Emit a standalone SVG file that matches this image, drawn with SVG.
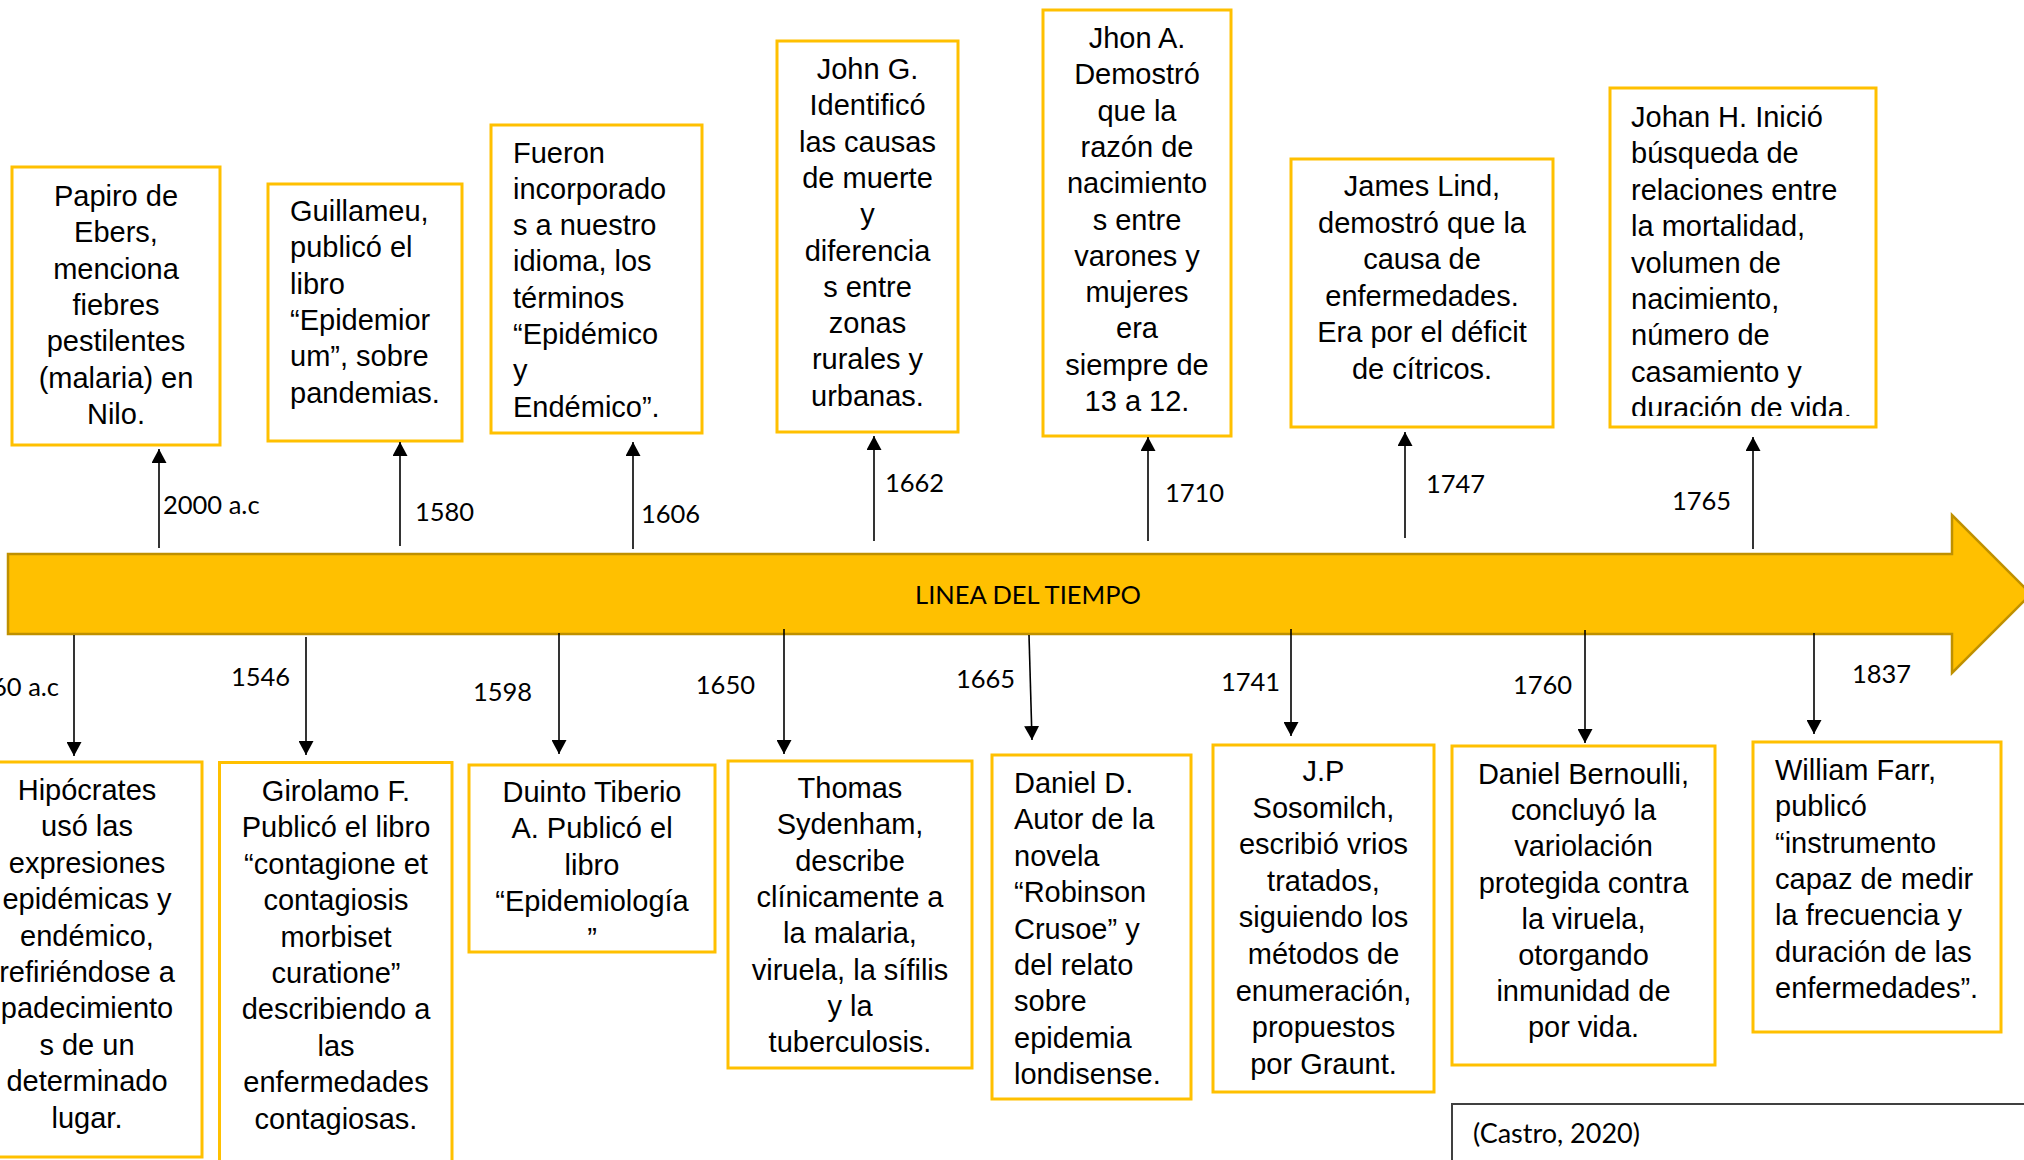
<svg xmlns="http://www.w3.org/2000/svg" width="2024" height="1160" viewBox="0 0 2024 1160">
<style>
.box{fill:#fff;stroke:#FFC000;stroke-width:3}
.t{font-family:"Liberation Sans",Arial,sans-serif;font-size:29px;fill:#000}
.c{text-anchor:middle}
.lbl{font-family:Lato,"Open Sans",sans-serif;font-size:25.5px;fill:#000}
.conn{stroke:#000;stroke-width:1.6;fill:none;marker-end:url(#ah)}
</style>
<defs>
<marker id="ah" markerUnits="userSpaceOnUse" markerWidth="15" markerHeight="15" refX="14" refY="7.5" orient="auto">
<path d="M0,0 L14,7.5 L0,15 Z" fill="#000"/>
</marker>
<clipPath id="clipJohan"><rect x="1610" y="88" width="266" height="328"/></clipPath>
</defs>
<rect width="2024" height="1160" fill="#fff"/>

<g id="timeline">
<path d="M8,554 H1952 V515 L2031,594 L1952,673 V634 H8 Z" fill="#FFC000" stroke="#BF9000" stroke-width="2.5"/>
<text x="1028" y="604" class="lbl c">LINEA DEL TIEMPO</text>
</g>

<g id="n-papiro">
<rect class="box" x="12" y="167" width="208" height="278"/>
<text class="t c" y="206"><tspan x="116">Papiro de</tspan><tspan x="116" dy="36.3">Ebers,</tspan><tspan x="116" dy="36.3">menciona</tspan><tspan x="116" dy="36.3">fiebres</tspan><tspan x="116" dy="36.3">pestilentes</tspan><tspan x="116" dy="36.3">(malaria) en</tspan><tspan x="116" dy="36.3">Nilo.</tspan></text>
</g>
<g id="n-guillameu">
<rect class="box" x="268" y="184" width="194" height="257"/>
<text class="t" y="221"><tspan x="290">Guillameu,</tspan><tspan x="290" dy="36.3">publicó el</tspan><tspan x="290" dy="36.3">libro</tspan><tspan x="290" dy="36.3">“Epidemior</tspan><tspan x="290" dy="36.3">um”, sobre</tspan><tspan x="290" dy="36.3">pandemias.</tspan></text>
</g>
<g id="n-fueron">
<rect class="box" x="491" y="125" width="211" height="308"/>
<text class="t" y="162.5"><tspan x="513">Fueron</tspan><tspan x="513" dy="36.3">incorporado</tspan><tspan x="513" dy="36.3">s a nuestro</tspan><tspan x="513" dy="36.3">idioma, los</tspan><tspan x="513" dy="36.3">términos</tspan><tspan x="513" dy="36.3">“Epidémico</tspan><tspan x="513" dy="36.3">y</tspan><tspan x="513" dy="36.3">Endémico”.</tspan></text>
</g>
<g id="n-johng">
<rect class="box" x="777" y="41" width="181" height="391"/>
<text class="t c" y="79"><tspan x="867.5">John G.</tspan><tspan x="867.5" dy="36.3">Identificó</tspan><tspan x="867.5" dy="36.3">las causas</tspan><tspan x="867.5" dy="36.3">de muerte</tspan><tspan x="867.5" dy="36.3">y</tspan><tspan x="867.5" dy="36.3">diferencia</tspan><tspan x="867.5" dy="36.3">s entre</tspan><tspan x="867.5" dy="36.3">zonas</tspan><tspan x="867.5" dy="36.3">rurales y</tspan><tspan x="867.5" dy="36.3">urbanas.</tspan></text>
</g>
<g id="n-jhona">
<rect class="box" x="1043" y="10" width="188" height="426"/>
<text class="t c" y="48"><tspan x="1137">Jhon A.</tspan><tspan x="1137" dy="36.3">Demostró</tspan><tspan x="1137" dy="36.3">que la</tspan><tspan x="1137" dy="36.3">razón de</tspan><tspan x="1137" dy="36.3">nacimiento</tspan><tspan x="1137" dy="36.3">s entre</tspan><tspan x="1137" dy="36.3">varones y</tspan><tspan x="1137" dy="36.3">mujeres</tspan><tspan x="1137" dy="36.3">era</tspan><tspan x="1137" dy="36.3">siempre de</tspan><tspan x="1137" dy="36.3">13 a 12.</tspan></text>
</g>
<g id="n-james">
<rect class="box" x="1291" y="159" width="262" height="268"/>
<text class="t c" y="196"><tspan x="1422">James Lind,</tspan><tspan x="1422" dy="36.6">demostró que la</tspan><tspan x="1422" dy="36.6">causa de</tspan><tspan x="1422" dy="36.6">enfermedades.</tspan><tspan x="1422" dy="36.6">Era por el déficit</tspan><tspan x="1422" dy="36.6">de cítricos.</tspan></text>
</g>
<g id="n-johan">
<rect class="box" x="1610" y="88" width="266" height="339"/>
<text class="t" y="127" clip-path="url(#clipJohan)"><tspan x="1631">Johan H. Inició</tspan><tspan x="1631" dy="36.4">búsqueda de</tspan><tspan x="1631" dy="36.4">relaciones entre</tspan><tspan x="1631" dy="36.4">la mortalidad,</tspan><tspan x="1631" dy="36.4">volumen de</tspan><tspan x="1631" dy="36.4">nacimiento,</tspan><tspan x="1631" dy="36.4">número de</tspan><tspan x="1631" dy="36.4">casamiento y</tspan><tspan x="1631" dy="36.4">duración de vida.</tspan></text>
</g>

<g id="n-hipocrates">
<rect class="box" x="-28" y="762" width="230" height="395"/>
<text class="t c" y="800"><tspan x="87">Hipócrates</tspan><tspan x="87" dy="36.4">usó las</tspan><tspan x="87" dy="36.4">expresiones</tspan><tspan x="87" dy="36.4">epidémicas y</tspan><tspan x="87" dy="36.4">endémico,</tspan><tspan x="87" dy="36.4">refiriéndose a</tspan><tspan x="87" dy="36.4">padecimiento</tspan><tspan x="87" dy="36.4">s de un</tspan><tspan x="87" dy="36.4">determinado</tspan><tspan x="87" dy="36.4">lugar.</tspan></text>
</g>
<g id="n-girolamo">
<rect class="box" x="219.5" y="762.5" width="232.5" height="420"/>
<text class="t c" y="801"><tspan x="336">Girolamo F.</tspan><tspan x="336" dy="36.4">Publicó el libro</tspan><tspan x="336" dy="36.4">“contagione et</tspan><tspan x="336" dy="36.4">contagiosis</tspan><tspan x="336" dy="36.4">morbiset</tspan><tspan x="336" dy="36.4">curatione”</tspan><tspan x="336" dy="36.4">describiendo a</tspan><tspan x="336" dy="36.4">las</tspan><tspan x="336" dy="36.4">enfermedades</tspan><tspan x="336" dy="36.4">contagiosas.</tspan></text>
</g>
<g id="n-duinto">
<rect class="box" x="469" y="765" width="246" height="187"/>
<text class="t c" y="802"><tspan x="592">Duinto Tiberio</tspan><tspan x="592" dy="36.4">A. Publicó el</tspan><tspan x="592" dy="36.4">libro</tspan><tspan x="592" dy="36.4">“Epidemiología</tspan><tspan x="592" dy="36.4">”</tspan></text>
</g>
<g id="n-thomas">
<rect class="box" x="728" y="761" width="244" height="307"/>
<text class="t c" y="798"><tspan x="850">Thomas</tspan><tspan x="850" dy="36.3">Sydenham,</tspan><tspan x="850" dy="36.3">describe</tspan><tspan x="850" dy="36.3">clínicamente a</tspan><tspan x="850" dy="36.3">la malaria,</tspan><tspan x="850" dy="36.3">viruela, la sífilis</tspan><tspan x="850" dy="36.3">y la</tspan><tspan x="850" dy="36.3">tuberculosis.</tspan></text>
</g>
<g id="n-danield">
<rect class="box" x="992" y="755" width="199" height="344"/>
<text class="t" y="793"><tspan x="1014">Daniel D.</tspan><tspan x="1014" dy="36.4">Autor de la</tspan><tspan x="1014" dy="36.4">novela</tspan><tspan x="1014" dy="36.4">“Robinson</tspan><tspan x="1014" dy="36.4">Crusoe” y</tspan><tspan x="1014" dy="36.4">del relato</tspan><tspan x="1014" dy="36.4">sobre</tspan><tspan x="1014" dy="36.4">epidemia</tspan><tspan x="1014" dy="36.4">londisense.</tspan></text>
</g>
<g id="n-jp">
<rect class="box" x="1213" y="745" width="221" height="347"/>
<text class="t c" y="781"><tspan x="1323.5">J.P</tspan><tspan x="1323.5" dy="36.6">Sosomilch,</tspan><tspan x="1323.5" dy="36.6">escribió vrios</tspan><tspan x="1323.5" dy="36.6">tratados,</tspan><tspan x="1323.5" dy="36.6">siguiendo los</tspan><tspan x="1323.5" dy="36.6">métodos de</tspan><tspan x="1323.5" dy="36.6">enumeración,</tspan><tspan x="1323.5" dy="36.6">propuestos</tspan><tspan x="1323.5" dy="36.6">por Graunt.</tspan></text>
</g>
<g id="n-bernoulli">
<rect class="box" x="1452" y="746" width="263" height="319"/>
<text class="t c" y="784"><tspan x="1583.5">Daniel Bernoulli,</tspan><tspan x="1583.5" dy="36.2">concluyó la</tspan><tspan x="1583.5" dy="36.2">variolación</tspan><tspan x="1583.5" dy="36.2">protegida contra</tspan><tspan x="1583.5" dy="36.2">la viruela,</tspan><tspan x="1583.5" dy="36.2">otorgando</tspan><tspan x="1583.5" dy="36.2">inmunidad de</tspan><tspan x="1583.5" dy="36.2">por vida.</tspan></text>
</g>
<g id="n-farr">
<rect class="box" x="1753" y="742" width="248" height="290"/>
<text class="t" y="780"><tspan x="1775">William Farr,</tspan><tspan x="1775" dy="36.3">publicó</tspan><tspan x="1775" dy="36.3">“instrumento</tspan><tspan x="1775" dy="36.3">capaz de medir</tspan><tspan x="1775" dy="36.3">la frecuencia y</tspan><tspan x="1775" dy="36.3">duración de las</tspan><tspan x="1775" dy="36.3">enfermedades”.</tspan></text>
</g>
<g id="n-castro">
<rect x="1452" y="1104" width="620" height="100" fill="#fff" stroke="#404040" stroke-width="2"/>
<text class="lbl" x="1473" y="1143" style="font-size:27px">(Castro, 2020)</text>
</g>

<g id="connectors">
<line class="conn" x1="159" y1="548" x2="159" y2="449"/>
<line class="conn" x1="400" y1="546" x2="400" y2="442"/>
<line class="conn" x1="633" y1="549" x2="633" y2="442"/>
<line class="conn" x1="874" y1="541" x2="874" y2="436"/>
<line class="conn" x1="1148" y1="541" x2="1148" y2="437"/>
<line class="conn" x1="1405" y1="538" x2="1405" y2="432"/>
<line class="conn" x1="1753" y1="549" x2="1753" y2="437"/>
<line class="conn" x1="74" y1="635" x2="74" y2="756"/>
<line class="conn" x1="306" y1="637" x2="306" y2="755"/>
<line class="conn" x1="559" y1="633" x2="559" y2="754"/>
<line class="conn" x1="784" y1="629" x2="784" y2="754"/>
<line class="conn" x1="1029" y1="635" x2="1032" y2="740"/>
<line class="conn" x1="1291" y1="629" x2="1291" y2="736"/>
<line class="conn" x1="1585" y1="630" x2="1585" y2="743"/>
<line class="conn" x1="1814" y1="633" x2="1814" y2="734"/>
</g>

<g id="year-labels">
<text class="lbl" x="163" y="514">2000 a.c</text>
<text class="lbl" x="415" y="521">1580</text>
<text class="lbl" x="641" y="523">1606</text>
<text class="lbl" x="885" y="492">1662</text>
<text class="lbl" x="1165" y="502">1710</text>
<text class="lbl" x="1426" y="493">1747</text>
<text class="lbl" x="1672" y="510">1765</text>
<text class="lbl" x="59" y="696" text-anchor="end">460 a.c</text>
<text class="lbl" x="231" y="686">1546</text>
<text class="lbl" x="473" y="701">1598</text>
<text class="lbl" x="755" y="694" text-anchor="end">1650</text>
<text class="lbl" x="956" y="687.5">1665</text>
<text class="lbl" x="1221" y="691">1741</text>
<text class="lbl" x="1513" y="694">1760</text>
<text class="lbl" x="1852" y="683">1837</text>
</g>
</svg>
